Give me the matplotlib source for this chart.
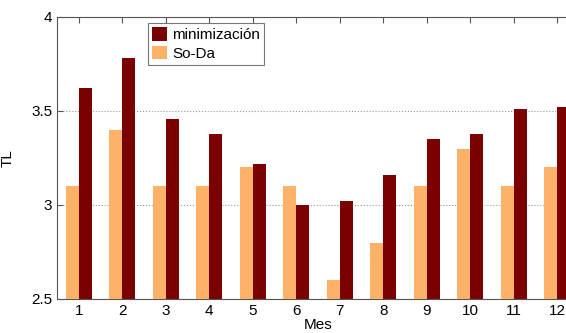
import matplotlib
matplotlib.use("Agg")
import matplotlib.pyplot as plt
import numpy as np

plt.rcParams['font.family'] = ['Liberation Sans', 'DejaVu Sans']

meses = list(range(1, 13))
minimizacion = [3.62, 3.78, 3.46, 3.38, 3.22, 3.00, 3.02, 3.16, 3.35, 3.38, 3.51, 3.52]
so_da = [3.10, 3.40, 3.10, 3.10, 3.20, 3.10, 2.60, 2.80, 3.10, 3.30, 3.10, 3.20]

color_min = '#7b0000'
color_soda = '#fdb267'

fig = plt.figure(figsize=(5.66, 3.33), dpi=100, facecolor='white')
ax = fig.add_axes([57 / 566, 1 - 299 / 333, 522 / 566, 282 / 333])

x = np.array(meses)
w = 0.3
ax.bar(x - w / 2, so_da, width=w, color=color_soda, label='So-Da', zorder=3)
ax.bar(x + w / 2, minimizacion, width=w, color=color_min, label='minimización', zorder=3)

ax.set_xlim(0.5, 12.5)
ax.set_ylim(2.5, 4)
ax.set_xticks(meses)
ax.set_yticks([2.5, 3, 3.5, 4])
ax.set_yticklabels(['2.5', '3', '3.5', '4'])
ax.yaxis.grid(True, linestyle=':', color='#999999', linewidth=0.8, zorder=0)
ax.tick_params(direction='in', top=True, right=True, labelsize=11, length=4,
               color='#555555')
for s in ax.spines.values():
    s.set_color('#555555')

ax.set_xlabel('Mes', fontsize=11, labelpad=0)
ax.set_ylabel('TL', fontsize=11, labelpad=12)

handles, labels = ax.get_legend_handles_labels()
leg = ax.legend(handles[::-1], labels[::-1], loc='upper left',
                bbox_to_anchor=(0.163, 1.0), fontsize=11, fancybox=False,
                edgecolor='#555555', handlelength=1.0, handleheight=1.0,
                handletextpad=0.3, borderpad=0.25, labelspacing=0.25,
                borderaxespad=0.4)
leg.get_frame().set_linewidth(0.8)

fig.savefig('out.png', dpi=100)
